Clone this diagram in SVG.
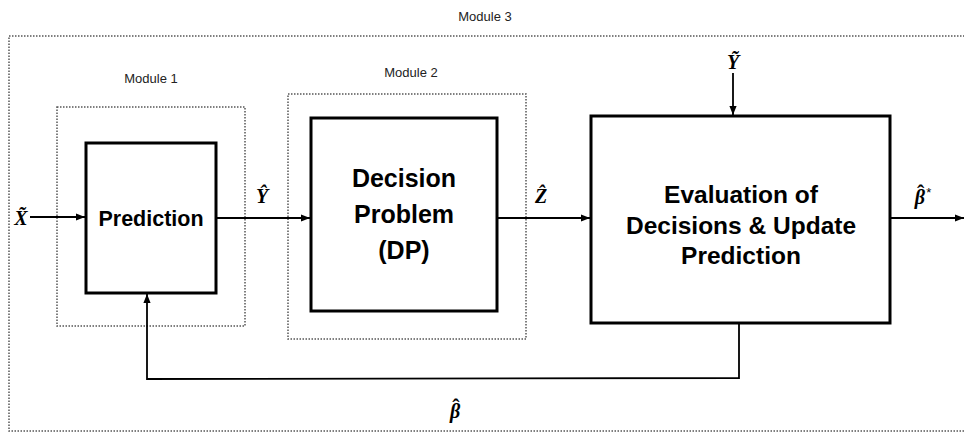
<svg xmlns="http://www.w3.org/2000/svg" width="964" height="432" viewBox="0 0 964 432">
<style>
.mod{fill:none;stroke:#555;stroke-width:1.5;stroke-dasharray:1.5 1.5}
.box{fill:#fff;stroke:#000;stroke-width:3}
.lbl{font-family:"Liberation Sans",Arial,sans-serif;font-size:13px;fill:#222;text-anchor:middle}
.bt{font-family:"Liberation Sans",Arial,sans-serif;font-weight:bold;fill:#000;text-anchor:middle}
.m{font-family:"Liberation Serif","DejaVu Serif",serif;font-weight:bold;font-style:italic;font-size:20px;fill:#000;text-anchor:middle}
.c{fill:none;stroke:#000;stroke-width:1.8}
.hat{font-style:normal;font-size:22px}
</style>
<defs>
<marker id="ah" viewBox="0 0 10 10" refX="10" refY="5" markerWidth="5" markerHeight="5" orient="auto" markerUnits="strokeWidth">
<path d="M0,1 L10,5 L0,9 z" fill="#000"/>
</marker>
</defs>
<rect width="964" height="432" fill="#fff"/>
<g id="module3">
<rect class="mod" x="9" y="36" width="970" height="395"/>
<text class="lbl" x="485" y="21">Module 3</text>
</g>
<g id="module1">
<rect class="mod" x="57" y="107" width="188" height="219"/>
<text class="lbl" x="151" y="83">Module 1</text>
</g>
<g id="module2">
<rect class="mod" x="288" y="94" width="238" height="245"/>
<text class="lbl" x="411" y="77">Module 2</text>
</g>
<g id="prediction">
<rect class="box" x="86" y="143" width="130" height="150"/>
<text class="bt" x="151" y="226" font-size="21.5">Prediction</text>
</g>
<g id="dp">
<rect class="box" x="311" y="118" width="186" height="193"/>
<text class="bt" x="404" y="187" font-size="25">Decision</text>
<text class="bt" x="404" y="223" font-size="25">Problem</text>
<text class="bt" x="404" y="259" font-size="25">(DP)</text>
</g>
<g id="evaluation">
<rect class="box" x="591" y="116" width="299" height="207"/>
<text class="bt" x="741" y="203" font-size="24.5">Evaluation of</text>
<text class="bt" x="741" y="234" font-size="24.5">Decisions &amp; Update</text>
<text class="bt" x="741" y="264" font-size="24.5">Prediction</text>
</g>
<g id="connectors">
<line class="c" x1="30" y1="217" x2="85" y2="217" marker-end="url(#ah)"/>
<line class="c" x1="216" y1="218" x2="310" y2="218" marker-end="url(#ah)"/>
<line class="c" x1="497" y1="218" x2="590" y2="218" marker-end="url(#ah)"/>
<line class="c" x1="890" y1="218" x2="964" y2="218" marker-end="url(#ah)"/>
<line class="c" x1="733" y1="73" x2="733" y2="115" marker-end="url(#ah)"/>
<polyline class="c" points="739,323 739,378 147,379 147,294" stroke-width="2.2" marker-end="url(#ah)"/>
</g>
<g id="labels">
<text class="m" x="21" y="225">X̃</text>
<text class="m" x="262" y="203">Ŷ</text>
<text class="m" x="541" y="203">Ẑ</text>
<text class="m" x="733" y="69">Ỹ</text>
<text class="m" x="923" y="204" text-anchor="start">β<tspan class="hat" dx="-8" dy="-4">ˆ</tspan><tspan font-family="Liberation Sans,Arial,sans-serif" font-weight="normal" font-style="normal" font-size="13" dx="2" dy="-3">*</tspan></text>
<text class="m" x="455" y="418" text-anchor="start">β<tspan class="hat" dx="-8" dy="-4">ˆ</tspan></text>
</g>
</svg>
